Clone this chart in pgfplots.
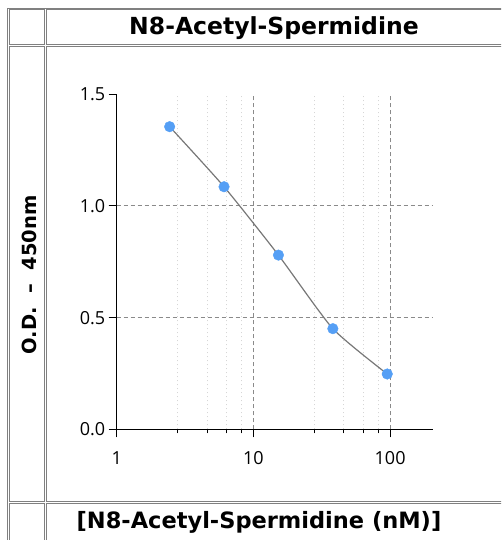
\documentclass[border=0pt]{standalone}
\usepackage{fontspec}
\setmainfont{Open Sans}
\newfontfamily\vfont{DejaVu Sans}
\usepackage{pgfplots}
\pgfplotsset{compat=1.18}
\definecolor{cTable}{HTML}{808080}
\definecolor{cGrid}{HTML}{8A8A8A}
\definecolor{cMinor}{HTML}{D6D6D6}
\definecolor{cDot}{HTML}{559FF5}
\definecolor{cCurve}{HTML}{777777}

\begin{document}
\begin{tikzpicture}[x=1pt,y=1pt]
\useasboundingbox (0,0) rectangle (501,540);
\begin{scope}
\clip (0,0) rectangle (501,540);
% table frame
\draw[cTable, line width=1pt] (7.5,-5) -- (7.5,531.5) -- (510,531.5);
\draw[cTable, line width=1pt] (9.5,495) rectangle (44.5,530);
\draw[cTable, line width=1pt] (46.5,495) rectangle (520,530);
\draw[cTable, line width=1pt] (9.5,38) rectangle (44.5,493);
\draw[cTable, line width=1pt] (46.5,38) rectangle (520,493);
\draw[cTable, line width=1pt] (9.5,-10) rectangle (44.5,36);
\draw[cTable, line width=1pt] (46.5,-10) rectangle (520,36);
\end{scope}

\node[font=\vfont\bfseries\fontsize{23.5}{28}\selectfont] at (274,512) {N8-Acetyl-Spermidine};
\node[font=\vfont\bfseries\fontsize{22.5}{27}\selectfont] at (259,18) {[N8-Acetyl-Spermidine (nM)]};
\node[font=\vfont\bfseries\fontsize{19.5}{23}\selectfont, rotate=90] at (29,265) {O.D. \ – \ 450nm};

\begin{axis}[
  at={(116.7pt,110.7pt)}, anchor=south west, scale only axis,
  width=316pt, height=335pt,
  xmode=log, xmin=1, xmax=205, ymin=0, ymax=1.5,
  axis x line=bottom, axis y line=left,
  axis line style={-, black, line width=1pt},
  xtick={1,10,100}, xticklabels={1,10,100},
  minor xtick={2.8,4.6,6.4,8.2,28,46,64,82},
  ytick={0,0.5,1,1.5}, yticklabels={0.0,0.5,1.0,1.5},
  tick align=outside, major tick length=8pt, minor tick length=4pt,
  tick style={black, line width=1pt},
  xmajorgrids, xminorgrids,
  major grid style={cGrid, line width=1pt, dash pattern=on 4pt off 3pt},
  minor grid style={cMinor, line width=1pt, dash pattern=on 1pt off 3pt},
  extra y ticks={0.5,1}, extra y tick labels={{},{}},
  extra y tick style={grid=major},
  ticklabel style={font=\fontsize{18}{21}\selectfont},
  xticklabel style={yshift=-11pt},
  clip=false,
]
\addplot[smooth, tension=0.35, cCurve, line width=1.2pt, no marks] coordinates {
  (2.44,1.355) (6.1,1.086) (15.25,0.78) (38.13,0.4505) (95.3,0.2476)};
\addplot[only marks, mark=*, mark size=5.3pt, cDot] coordinates {
  (2.44,1.355) (6.1,1.086) (15.25,0.78) (38.13,0.4505) (95.3,0.2476)};
\end{axis}
\end{tikzpicture}
\end{document}
